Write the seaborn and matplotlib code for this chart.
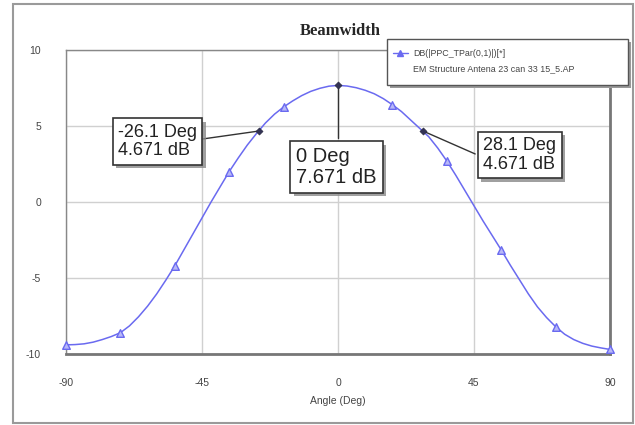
import matplotlib
matplotlib.use("Agg")
import matplotlib.pyplot as plt
import matplotlib.patheffects as pe
import seaborn as sns
import pandas as pd
from matplotlib.patches import Rectangle

# ---- data ----
curve_angle = [-90, -87, -84, -81, -78, -75, -72, -69, -66, -63, -60, -57, -54, -51, -48, -45,
               -42, -39, -36, -33, -30, -27, -24, -21, -18, -15, -12, -9, -6, -3,
               0, 3, 6, 9, 12, 15, 18, 21, 24, 27, 30, 33, 36, 39, 42, 45,
               48, 51, 54, 57, 60, 63, 66, 69, 72, 75, 78, 81, 84, 87, 90]
curve_db = [-9.4, -9.38, -9.33, -9.22, -9.05, -8.85, -8.6, -8.15, -7.55, -6.85, -6.05, -5.15, -4.2, -3.15, -2.1, -1.05,
            0.0, 1.0, 2.0, 2.9, 3.75, 4.5, 5.2, 5.78, 6.25, 6.65, 7.0, 7.28, 7.48, 7.62,
            7.671, 7.63, 7.52, 7.35, 7.12, 6.8, 6.4, 5.95, 5.4, 4.85, 4.3, 3.55, 2.7, 1.75, 0.75, -0.25,
            -1.25, -2.2, -3.15, -4.15, -5.1, -6.05, -6.9, -7.6, -8.2, -8.7, -9.05, -9.3, -9.48, -9.6, -9.7]
marker_angle = [-90, -72, -54, -36, -18, 18, 36, 54, 72, 90]
marker_db = [-9.4, -8.6, -4.2, 2.0, 6.25, 6.4, 2.7, -3.15, -8.2, -9.7]
ann_angle = [-26.1, 0.0, 28.1]
ann_db = [4.671, 7.671, 4.671]
ann_text = ["-26.1 Deg\n4.671 dB", "0 Deg\n7.671 dB", "28.1 Deg\n4.671 dB"]
x_ticks = [-90, -45, 0, 45, 90]
y_ticks = [-10, -5, 0, 5, 10]
series_name = "DB(|PPC_TPar(0,1)|)[*]"
series_source = "EM Structure Antena 23 can 33 15_5.AP"
title = "Beamwidth"
x_label = "Angle (Deg)"

sns.set_style("white")
plt.rcParams['font.family'] = ['Liberation Sans', 'DejaVu Sans']

fig = plt.figure(figsize=(6.35, 4.25), dpi=100)
ax = fig.add_axes([66/635, 1-354/425, (610-66)/635, (354-50)/425])

line_color = "#6a6af0"
df_curve = pd.DataFrame({"angle": curve_angle, "db": curve_db})
df_mark = pd.DataFrame({"angle": marker_angle, "db": marker_db})
df_ann = pd.DataFrame({"angle": ann_angle, "db": ann_db})

sns.lineplot(data=df_curve, x="angle", y="db", ax=ax, color=line_color, lw=1.1,
             estimator=None, sort=False, zorder=3)
sns.scatterplot(data=df_mark, x="angle", y="db", ax=ax, marker="^", s=30,
                facecolor="#b8b8f8", edgecolor=line_color, linewidth=1.0, zorder=4, clip_on=False)
sns.scatterplot(data=df_ann, x="angle", y="db", ax=ax, marker="D", s=14,
                color="#333355", edgecolor="#222233", zorder=5)

ax.set_xlim(-90, 90)
ax.set_ylim(-10, 10)
ax.set_xticks(x_ticks)
ax.set_yticks(y_ticks)
ax.set_xticklabels([str(t) for t in x_ticks])
ax.set_yticklabels([str(t) for t in y_ticks])
ax.grid(True, color="#d0d0d0", lw=1.0)
ax.tick_params(axis="both", length=0, labelsize=7.5, colors="#444444", pad=17)
ax.tick_params(axis="y", pad=18)
ax.set_xlabel(x_label, fontsize=7.5, color="#444444", labelpad=6)
ax.set_ylabel("")
for s in ax.spines.values():
    s.set_color("#888888")
    s.set_linewidth(1.0)
ax.spines["bottom"].set_linewidth(2.0)
ax.spines["right"].set_linewidth(2.0)
ax.spines["bottom"].set_color("#777777")
ax.spines["right"].set_color("#777777")

fig.text(340/635, 1-31/425, title, ha="center", va="center", fontsize=12,
         fontweight="bold", family=["Liberation Serif", "DejaVu Serif"], zorder=12)

# annotation boxes: text position (left edge), connector anchor on the box, font size
box_pos = [(-72.8, 3.98), (-13.8, 2.3), (48.1, 3.09)]
box_anchor = [(-45.0, 4.14), (0.0, 4.21), (45.4, 3.16)]
box_fs = [13, 14.5, 13]
for (xa, ya), (bx, by), (cx, cy), fs, txt in zip(zip(ann_angle, ann_db), box_pos, box_anchor, box_fs, ann_text):
    ax.plot([xa, cx], [ya, cy], color="#333333", lw=1.0, zorder=4)
    t = ax.text(bx, by, txt, ha="left", va="center", fontsize=fs, color="#222222", zorder=6,
                linespacing=1.1,
                bbox=dict(boxstyle="square,pad=0.3", fc="white", ec="#333333", lw=1.2))
    t.get_bbox_patch().set_path_effects([pe.SimplePatchShadow(offset=(2.5, -2.5), shadow_rgbFace="#888888", alpha=0.8),
                                         pe.Normal()])

# legend box
lx0, ly0, lw_, lh_ = 387/635, 1-85/425, (628-387)/635, (85-39)/425
fig.patches.append(Rectangle((lx0+0.005, ly0-0.008), lw_, lh_, transform=fig.transFigure,
                             fc="#999999", ec="none", zorder=9))
fig.patches.append(Rectangle((lx0, ly0), lw_, lh_, transform=fig.transFigure,
                             fc="white", ec="#555555", lw=1.0, zorder=10))
fig.lines.append(plt.Line2D([393/635, 400/635, 408/635], [1-53/425]*3, transform=fig.transFigure,
                            color=line_color, lw=1.0, marker="^", markersize=4,
                            markevery=[1], markerfacecolor=line_color, zorder=11))
fig.text(413/635, 1-53/425, series_name, fontsize=6.4, va="center", color="#444444", zorder=11)
fig.text(413/635, 1-69/425, series_source, fontsize=6.4, va="center", color="#444444", zorder=11)

# outer border
fig.patches.append(Rectangle((13/635, 2/425), (633-13)/635, (421-2)/425, transform=fig.transFigure,
                             fc="none", ec="#9a9a9a", lw=1.5, zorder=1))

fig.savefig("out.png", dpi=100)
